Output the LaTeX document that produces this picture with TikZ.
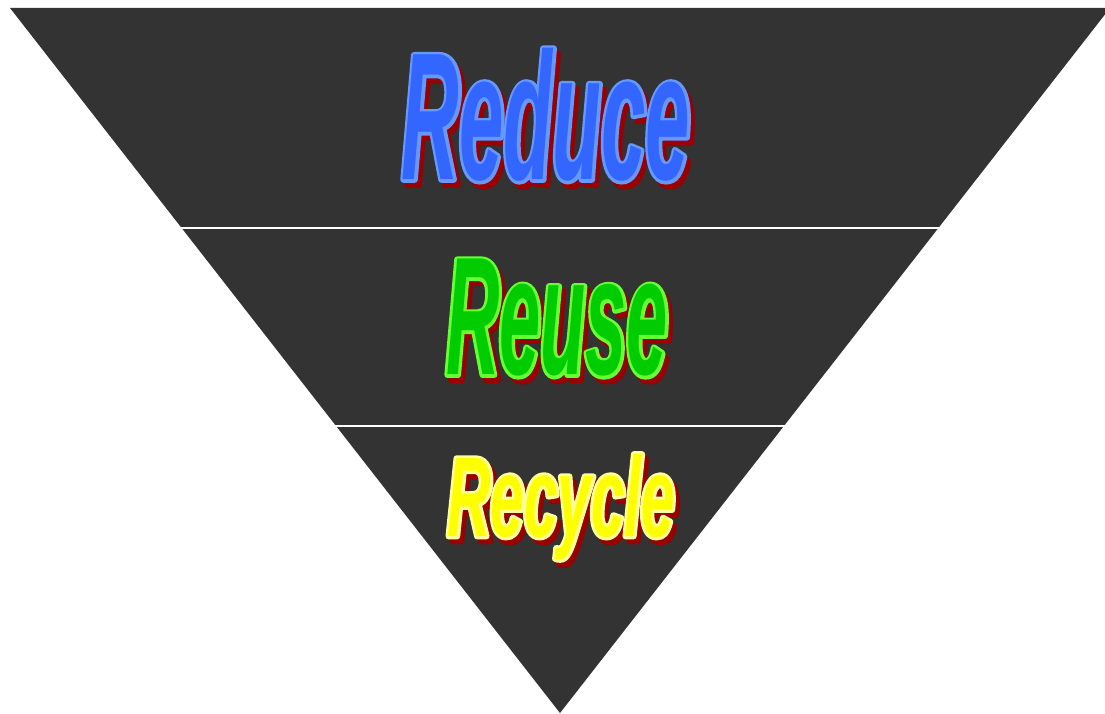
\documentclass[tikz,border=0pt]{standalone}
\usepackage{fontspec}
\newfontfamily\tallfont{Liberation Sans}[FakeStretch=0.44]
\newfontfamily\widefont{Liberation Sans}[FakeStretch=0.53]

\definecolor{panelgray}{RGB}{51,51,51}
\definecolor{shadowred}{RGB}{153,0,0}
\definecolor{reduceblue}{RGB}{51,102,255}
\definecolor{reusegreen}{RGB}{0,204,0}
\definecolor{recycleyellow}{RGB}{255,255,0}

\tikzset{every picture/.style={line width=0.75pt}}
\tikzset{word/.style={inner sep=0pt, font=\bfseries\itshape}}

% glyphs drawn with a stroke: render mode, stroke rgb, text
\newcommand{\edged}[3]{\special{pdf:literal direct 4.5 w 1 j #2 RG #1 Tr}#3\special{pdf:literal direct 0 Tr}}
% word with red shadow and light edge: name, x, y, font, fill, edge rgb, text
\newcommand{\wordart}[7]{%
  \node[word] (#1) at (#2,#3) {#4%
    \rlap{\kern3pt\raisebox{-3.75pt}[0pt][0pt]{\color{shadowred}\edged{2}{0.6 0 0}{#7}}}%
    \rlap{\color{#5}\edged{1}{#6}{#7}}%
    \textcolor{#5}{#7}};
}

\begin{document}
\begin{tikzpicture}[x=0.75pt,y=0.75pt,yscale=-1,xscale=1]
\useasboundingbox (0,0) rectangle (1105,713);

%Shape: Triangle
\fill [panelgray] (10,8) -- (1110,8) -- (560,713) -- cycle ;
%Straight Lines
\draw [white][line width=1.5] (181,228) -- (939,228) ;
\draw [white][line width=1.5] (335,426) -- (786,426) ;

% Text Node
\wordart{reduce}{546}{115}{\tallfont\fontsize{136}{136}\selectfont}{reduceblue}{0.4 0.6 1}{Reduce}
% Text Node
\wordart{reuse}{557}{318}{\tallfont\fontsize{126}{126}\selectfont}{reusegreen}{0.4 1 0.2}{Reuse}
% Text Node
\wordart{recycle}{561}{507}{\widefont\fontsize{85}{85}\selectfont}{recycleyellow}{1 1 0.6}{Recycle}

\end{tikzpicture}
\end{document}
